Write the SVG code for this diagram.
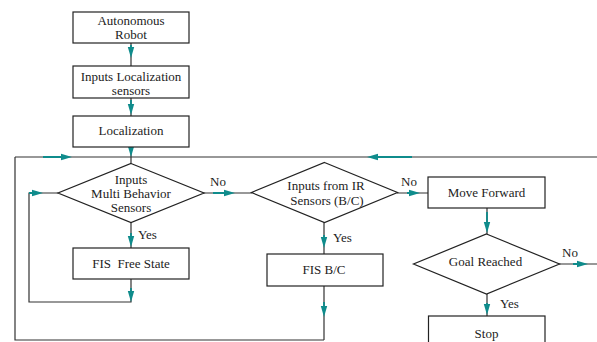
<svg xmlns="http://www.w3.org/2000/svg" xmlns:xlink="http://www.w3.org/1999/xlink" width="597" height="342" viewBox="0 0 597 342">
<style>
.box{fill:#fff;stroke:#222;stroke-width:1.2}
.ln{fill:none;stroke:#333;stroke-width:1.2}
.tl{stroke:#0f8c8c;stroke-width:1.8;fill:none}
.ah{fill:#0f8c8c}
text{font-family:"Liberation Serif","Times New Roman",serif;font-size:13px;fill:#222;white-space:pre}
.c{text-anchor:middle}
</style>
<defs>
<polygon id="ah" class="ah" points="0,0 -11,-3.2 -11,3.2"/>
</defs>
<rect width="597" height="342" fill="#fff"/>
<g id="connectors">
<path class="ln" d="M131,43V66M131,98V116M131,147V163.5M15,157H597M15,157V340H324M324,286V340M131,222V248M131,279V302H29V193H58M203,193H252M397,193H428M324,222V254M487,208V234M559,264H597M487,294V316"/>
<path class="tl" d="M131,45V52M131,100V108M131,147V152M43,157H66M412,157H373M131,233V240M131,288V296M29,193H37M213,193H229M407,193H414M324,235V242M324,302V311M487,212V227M573,264H582M487,303V309"/>
<use xlink:href="#ah" transform="translate(131,58) rotate(90)"/>
<use xlink:href="#ah" transform="translate(131,115) rotate(90)"/>
<use xlink:href="#ah" transform="translate(131,157) rotate(90)"/>
<use xlink:href="#ah" transform="translate(72,157)"/>
<use xlink:href="#ah" transform="translate(367,157) rotate(180)"/>
<use xlink:href="#ah" transform="translate(131,247) rotate(90)"/>
<use xlink:href="#ah" transform="translate(131,302) rotate(90)"/>
<use xlink:href="#ah" transform="translate(43,193)"/>
<use xlink:href="#ah" transform="translate(235,193)"/>
<use xlink:href="#ah" transform="translate(420,193)"/>
<use xlink:href="#ah" transform="translate(324,248) rotate(90)"/>
<use xlink:href="#ah" transform="translate(324,317) rotate(90)"/>
<use xlink:href="#ah" transform="translate(487,233) rotate(90)"/>
<use xlink:href="#ah" transform="translate(588,264)"/>
<use xlink:href="#ah" transform="translate(487,315) rotate(90)"/>
<text x="218" y="185.5" class="c">No</text>
<text x="409" y="185.5" class="c">No</text>
<text x="570" y="257" class="c">No</text>
<text x="138" y="238.5">Yes</text>
<text x="333" y="241.5">Yes</text>
<text x="500" y="307.5">Yes</text>
</g>
<g id="autonomous-robot">
<rect class="box" x="73" y="12" width="116" height="31"/>
<text x="131" y="24.5" class="c">Autonomous</text>
<text x="131" y="38.5" class="c">Robot</text>
</g>
<g id="inputs-localization">
<rect class="box" x="73" y="66" width="116" height="32"/>
<text x="131" y="80.5" class="c">Inputs Localization</text>
<text x="131" y="94.5" class="c">sensors</text>
</g>
<g id="localization">
<rect class="box" x="73" y="116" width="116" height="31"/>
<text x="131" y="134.5" class="c">Localization</text>
</g>
<g id="multi-behavior">
<polygon class="box" points="131,163.5 204,193 131,222.5 58,193"/>
<text x="131" y="183.5" class="c">Inputs</text>
<text x="131" y="197.5" class="c">Multi Behavior</text>
<text x="131" y="211.5" class="c">Sensors</text>
</g>
<g id="fis-free-state">
<rect class="box" x="73" y="248" width="116" height="31"/>
<text x="131" y="267.5" class="c">FIS  Free State</text>
</g>
<g id="ir-sensors">
<polygon class="box" points="324.5,162.5 397.5,192.5 324.5,222.5 251.5,192.5"/>
<text x="326" y="189.5" class="c">Inputs from IR</text>
<text x="327" y="204.5" class="c">Sensors (B/C)</text>
</g>
<g id="fis-bc">
<rect class="box" x="267" y="254" width="116" height="32"/>
<text x="324" y="273.5" class="c">FIS B/C</text>
</g>
<g id="move-forward">
<rect class="box" x="428" y="177" width="117" height="31"/>
<text x="486.5" y="196.5" class="c">Move Forward</text>
</g>
<g id="goal-reached">
<polygon class="box" points="486.5,234 559.5,264 486.5,294 413.5,264"/>
<text x="485.5" y="266" class="c">Goal Reached</text>
</g>
<g id="stop">
<rect class="box" x="428.5" y="316" width="116.5" height="40"/>
<text x="486.5" y="337.5" class="c">Stop</text>
</g>
</svg>
